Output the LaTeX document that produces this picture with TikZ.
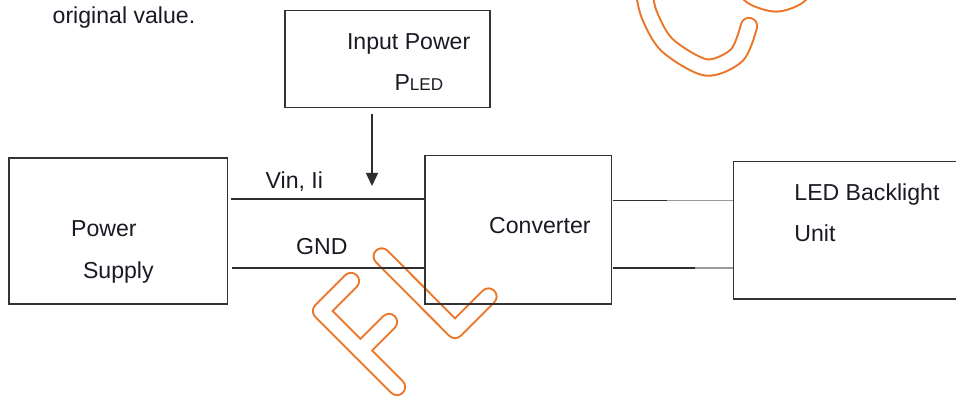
\documentclass[tikz,border=0pt]{standalone}
\usepackage{fontspec}
\setmainfont{Liberation Sans}
\usetikzlibrary{arrows.meta}
\definecolor{boxgray}{HTML}{333333}
\definecolor{wiregray}{HTML}{2E2E2E}
\definecolor{wirelight}{HTML}{9A9A9A}
\definecolor{textc}{HTML}{1A1A24}
\definecolor{wmorange}{HTML}{EC7425}
\begin{document}
\begin{tikzpicture}[x=1pt,y=-1pt,
  box/.style={draw=boxgray, line width=1.5pt, inner sep=0pt, anchor=north west},
  wire/.style={draw=wiregray, line width=1.3pt},
  wirel/.style={draw=wirelight, line width=1.5pt},
  lbl/.style={anchor=base west, inner sep=0pt, font=\fontsize{23.1}{27}\selectfont, text=textc},
  wmo/.style={draw=wmorange, line width=18.2pt, line cap=round, line join=round},
  wmi/.style={draw=white, line width=14.2pt, line cap=round, line join=round}]
\useasboundingbox (0,0) rectangle (956,398);
\fill[white] (0,0) rectangle (956,398);
\clip (0,0) rectangle (956,398);

% watermark (outlined strokes)
\draw[wmo] (351,281) -- (321,311) -- (397,387);
\draw[wmo] (360.5,350.5) -- (389,322);
\draw[wmo] (381.7,256.4) -- (455,330) -- (488.5,296.5);
\draw[wmo] plot[smooth] coordinates {(643,-14) (649,14) (667,45) (706,67.5) (737,55) (749,26)};
\draw[wmo] plot[smooth] coordinates {(736,-22) (752,-4) (776,3.5) (798,-4) (812,-22)};
\draw[wmi] (351,281) -- (321,311) -- (397,387);
\draw[wmi] (360.5,350.5) -- (389,322);
\draw[wmi] (381.7,256.4) -- (455,330) -- (488.5,296.5);
\draw[wmi] plot[smooth] coordinates {(643,-14) (649,14) (667,45) (706,67.5) (737,55) (749,26)};
\draw[wmi] plot[smooth] coordinates {(736,-22) (752,-4) (776,3.5) (798,-4) (812,-22)};

% boxes
\node[box, minimum width=218.4pt, minimum height=146pt] (ps) at (8.3,157.3) {};
\node[box, minimum width=186.4pt, minimum height=148.3pt] (conv) at (424.3,155) {};
\node[box, minimum width=205pt, minimum height=97pt] (inp) at (284,10) {};
\node[box, minimum width=240pt, minimum height=137.6pt] (led) at (732.7,160.7) {};

% texts
\node[lbl] (t0) at (52.5,24) {original value.};
\node[lbl] (t1) at (346.8,50) {Input Power};
\node[lbl] (t2) at (394.3,90.7) {P{\fontsize{17.1}{20}\selectfont LED}};
\node[lbl] (t3) at (71,236.6) {Power};
\node[lbl] (t4) at (82.8,278.3) {Supply};
\node[lbl] (t5) at (265.5,189) {Vin, Ii};
\node[lbl] (t6) at (295.9,254.3) {GND};
\node[lbl] (t7) at (489,234) {Converter};
\node[lbl] (t8) at (794.2,200.7) {LED Backlight};
\node[lbl] (t9) at (794.2,241.7) {Unit};

% connectors
\coordinate (v1) at (231,199);
\coordinate (g1) at (232,268);
\draw[wire] (v1) -- (v1 -| conv.west);
\draw[wire] (g1) -- (g1 -| conv.west);
\coordinate (r1) at (612.7,200.7);
\coordinate (r1m) at (667,200.7);
\coordinate (r2) at (612.7,268);
\coordinate (r2m) at (695,268);
\draw[wire] (r1) -- (r1m);
\draw[wirel] (r1m) -- (r1m -| led.west);
\draw[wire] (r2) -- (r2m);
\draw[wirel] (r2m) -- (r2m -| led.west);
\coordinate (a1) at (372,114);
\coordinate (a2) at (372,186);
\draw[wire, -{Triangle[length=13pt,width=12pt]}] (a1) -- (a2);
\end{tikzpicture}
\end{document}
